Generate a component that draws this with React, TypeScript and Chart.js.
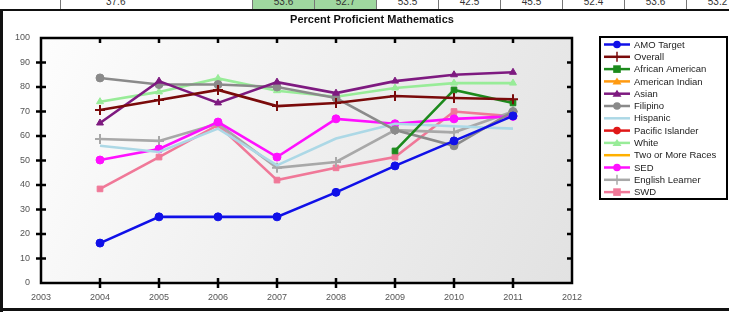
import React, { useEffect, useRef } from "react";
import { Chart, registerables } from "chart.js";

Chart.register(...registerables);

const years = [2004, 2005, 2006, 2007, 2008, 2009, 2010, 2011];
const xTickMin = 2003;
const xTickMax = 2012;
const yTickMin = 0;
const yTickMax = 100;

const amoTarget = [16.3, 27, 27, 27, 37, 47.8, 58, 68.2];
const overall = [70.6, 74.7, 78.8, 72.2, 73.5, 76.3, 75.5, 75];
const africanAmerican = [null, null, null, null, null, 53.9, 78.8, 73.5];
const americanIndian = [null, null, null, null, null, null, null, null];
const asian = [65.3, 82.4, 73.5, 82, 77.5, 82.4, 85, 86];
const filipino = [83.7, 81, 81, 80, 75.5, 62.4, 56, 70];
const hispanic = [56, 53.5, 63, 48, 59, 65, 64, 63];
const pacificIslander = [null, null, null, null, null, null, null, null];
const white = [74, 78, 83.5, 78.5, 76, 79.6, 81.6, 81.6];
const twoOrMore = [null, null, null, null, null, null, null, null];
const sed = [50.2, 54.7, 65.7, 51.4, 67, 65, 67, 68];
const englishLearner = [58.8, 58, 65, 47, 49.4, 62.4, 61.5, 70];
const swd = [38.4, 51.4, 64.5, 42, 47, 51.4, 70, 68];

const seriesNames = [
  "AMO Target", "Overall", "African American", "American Indian", "Asian", "Filipino",
  "Hispanic", "Pacific Islander", "White", "Two or More Races", "SED", "English Learner", "SWD",
];
const seriesValues = [
  amoTarget, overall, africanAmerican, americanIndian, asian, filipino,
  hispanic, pacificIslander, white, twoOrMore, sed, englishLearner, swd,
];
const seriesColors = [
  "#1010e8", "#7a0a0a", "#1c8a1c", "#ff9a10", "#7e1a80", "#8a8a8a",
  "#acd8e6", "#e01818", "#98ec98", "#ffb000", "#ff10ff", "#a8a8a8", "#f07898",
];
const seriesPoints = [
  "circle", "cross", "rect", "triangle", "triangle", "circle",
  "line", "circle", "triangle", "line", "circle", "cross", "rect",
];

const stripTexts = ["37.6", "53.6", "52.7", "53.5", "42.5", "45.5", "52.4", "53.6", "53.2"];

const framePlugin = {
  id: "framePlugin",
  beforeDraw(chart: any) {
    const { ctx, chartArea: a } = chart;
    ctx.save();
    ctx.fillStyle = "#ffffff";
    ctx.fillRect(0, 0, chart.width, chart.height);
    const g = ctx.createLinearGradient(a.left, a.top, a.right, a.bottom);
    g.addColorStop(0, "#fdfdfd");
    g.addColorStop(0.5, "#efefef");
    g.addColorStop(1, "#e2e2e2");
    ctx.fillStyle = g;
    ctx.fillRect(a.left, a.top, a.right - a.left, a.bottom - a.top);
    ctx.fillStyle = "#111";
    ctx.font = "bold 11px 'Liberation Sans', Arial, sans-serif";
    ctx.textAlign = "center";
    ctx.textBaseline = "middle";
    ctx.fillText("Percent Proficient Mathematics", 372, 11);
    ctx.restore();
  },
  afterDraw(chart: any) {
    const { ctx, chartArea: a, scales } = chart;
    const xs = scales.x;
    const ys = scales.y;
    ctx.save();
    ctx.strokeStyle = "#000";
    ctx.lineWidth = 2.5;
    ctx.strokeRect(a.left, a.top, a.right - a.left, a.bottom - a.top);
    ctx.beginPath();
    for (let v = xTickMin + 1; v < xTickMax; v++) {
      const px = xs.getPixelForValue(v);
      ctx.moveTo(px, a.bottom - 5);
      ctx.lineTo(px, a.bottom + 5);
      ctx.moveTo(px, a.top - 1);
      ctx.lineTo(px, a.top + 5);
    }
    for (let v = yTickMin + 10; v < yTickMax; v += 10) {
      const py = ys.getPixelForValue(v);
      ctx.moveTo(a.left - 5, py);
      ctx.lineTo(a.left + 5, py);
      ctx.moveTo(a.right - 5, py);
      ctx.lineTo(a.right + 1, py);
    }
    ctx.stroke();

    ctx.fillStyle = "#111";
    ctx.fillRect(0, 0, chart.width, 2);
    ctx.fillRect(0, 0, 3, chart.height);
    ctx.fillRect(0, chart.height - 4, chart.width, 3);

    const lx = 600, ly = 28, lw = 127, lh = 162;
    ctx.fillStyle = "#ffffff";
    ctx.fillRect(lx, ly, lw, lh);
    ctx.strokeStyle = "#000";
    ctx.lineWidth = 2;
    ctx.strokeRect(lx, ly, lw, lh);
    ctx.font = "9.5px 'Liberation Sans', Arial, sans-serif";
    ctx.textAlign = "left";
    ctx.textBaseline = "middle";
    chart.data.datasets.forEach((ds: any, i: number) => {
      const cy = ly + 7.5 + i * 12.3;
      ctx.strokeStyle = ds.borderColor;
      ctx.lineWidth = 2.5;
      ctx.beginPath();
      ctx.moveTo(lx + 4, cy);
      ctx.lineTo(lx + 30, cy);
      ctx.stroke();
      ctx.fillStyle = ds.borderColor;
      ctx.lineWidth = 1.5;
      const st = ds.pointStyle;
      const mx = lx + 17;
      if (st !== "line") {
        ctx.beginPath();
        if (st === "circle") {
          ctx.arc(mx, cy, 3.8, 0, Math.PI * 2);
          ctx.fill();
        } else if (st === "rect") {
          ctx.fillRect(mx - 3.8, cy - 3.8, 7.6, 7.6);
        } else if (st === "triangle") {
          ctx.moveTo(mx, cy - 4);
          ctx.lineTo(mx + 4.5, cy + 3);
          ctx.lineTo(mx - 4.5, cy + 3);
          ctx.closePath();
          ctx.fill();
        } else if (st === "cross") {
          ctx.moveTo(mx, cy - 5);
          ctx.lineTo(mx, cy + 5);
          ctx.stroke();
        }
      }
      ctx.fillStyle = "#222";
      ctx.fillText(ds.label, lx + 34, cy + 0.5);
    });
    ctx.restore();
  },
};

export default function App() {
  const ref = useRef<HTMLCanvasElement | null>(null);
  useEffect(() => {
    if (!ref.current) return;
    const datasets = seriesNames.map((name, i) => ({
      label: name,
      data: years.map((yr, j) => ({ x: yr, y: seriesValues[i][j] })),
      borderColor: seriesColors[i],
      backgroundColor: seriesColors[i],
      pointStyle: seriesPoints[i],
      pointRadius: seriesPoints[i] === "line" ? 0 : seriesPoints[i] === "cross" ? 5 : 4,
      pointBorderWidth: seriesPoints[i] === "cross" ? 2 : 1,
      borderWidth: 2.6,
      tension: 0,
      spanGaps: false,
    }));
    const chart = new Chart(ref.current, {
      type: "line",
      data: { datasets },
      plugins: [framePlugin],
      options: {
        animation: false,
        responsive: false,
        maintainAspectRatio: false,
        layout: { padding: { left: 0, right: 157, top: 29, bottom: 0 } },
        plugins: { legend: { display: false }, tooltip: { enabled: false }, title: { display: false } },
        scales: {
          x: {
            type: "linear",
            min: xTickMin,
            max: xTickMax,
            border: { display: false },
            grid: { display: false, drawTicks: false },
            ticks: {
              stepSize: 1,
              padding: 9,
              color: "#555",
              font: { size: 9, family: "'Liberation Sans', Arial, sans-serif" },
              callback: (v: any) => String(v),
              maxRotation: 0,
            },
            afterFit: (s: any) => { s.height = 29; },
          },
          y: {
            min: yTickMin,
            max: yTickMax,
            border: { display: false },
            grid: { display: false, drawTicks: false },
            ticks: {
              stepSize: 10,
              padding: 11,
              color: "#555",
              font: { size: 9, family: "'Liberation Sans', Arial, sans-serif" },
            },
            afterFit: (s: any) => { s.width = 41; },
          },
        },
      },
    } as any);
    return () => chart.destroy();
  }, []);

  return (
    <div style={{ position: "absolute", left: 0, top: 0, width: 729, height: 312, background: "#fff", overflow: "hidden" }}>
      <div style={{ position: "absolute", left: 0, top: 0, width: 729, height: 9, overflow: "hidden" }}>
        {stripTexts.map((t, i) => {
          const left = i === 0 ? 60 : 190 + i * 62;
          const w = i === 0 ? 192 : 62;
          const green = i === 1 || i === 2;
          return (
            <div key={i} style={{
              position: "absolute", left, top: 0, width: w, height: 9,
              background: green ? "#9fd89f" : "#fff",
              borderLeft: "1px solid #777", boxSizing: "border-box",
              font: "10px 'Liberation Sans', Arial, sans-serif", color: "#333",
              textAlign: i === 0 ? "left" : "center", lineHeight: "10px",
              paddingLeft: i === 0 ? 45 : 0,
            }}>
              <span style={{ position: "relative", top: -3 }}>{t}</span>
            </div>
          );
        })}
      </div>
      <canvas ref={ref} width={729} height={303} style={{ position: "absolute", left: 0, top: 9, width: 729, height: 303 }} />
    </div>
  );
}
